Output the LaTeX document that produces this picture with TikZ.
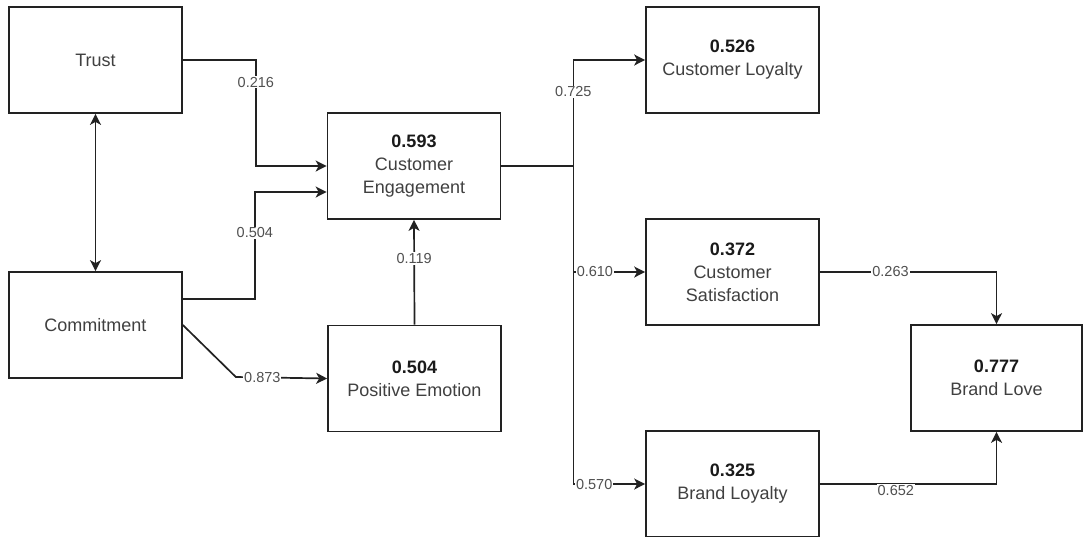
\documentclass[tikz,border=0pt]{standalone}
\usepackage{fontspec}
\setmainfont{Liberation Sans}
\usetikzlibrary{arrows.meta}
\definecolor{linec}{HTML}{222222}
\definecolor{namec}{HTML}{404040}
\definecolor{numc}{HTML}{1A1A1A}
\definecolor{labc}{HTML}{505050}
\tikzset{
  box/.style={draw=linec, line width=1.7pt, fill=white, minimum width=173pt, minimum height=106pt,
    inner sep=0pt, align=center, text=namec, font=\fontsize{18}{23}\selectfont},
  arr/.style={draw=linec, line width=1.7pt, -{Stealth[length=11pt,width=11pt,inset=3pt]}},
  arrtwo/.style={draw=linec, line width=1.7pt, {Stealth[length=11pt,width=11pt,inset=3pt]}-{Stealth[length=11pt,width=11pt,inset=3pt]}},
  elabel/.style={fill=white, text=labc, inner sep=1pt, font=\fontsize{14.5}{16}\selectfont},
}
\newcommand{\num}[1]{{\color{numc}\bfseries #1}}
\begin{document}
\begin{tikzpicture}[x=1pt,y=-1pt]
\useasboundingbox (0,0) rectangle (1083,536);
\node[box] (trust) at (95.5,60) {Trust};
\node[box] (comm) at (95.5,325) {Commitment};
\node[box] (ce) at (414,166) {\num{0.593}\\Customer\\Engagement};
\node[box] (pe) at (414.5,378.5) {\num{0.504}\\Positive Emotion};
\node[box] (cl) at (732.5,60) {\num{0.526}\\Customer Loyalty};
\node[box] (cs) at (732.5,272) {\num{0.372}\\Customer\\Satisfaction};
\node[box] (blo) at (732.5,484) {\num{0.325}\\Brand Loyalty};
\node[box, minimum width=171pt] (blove) at (996.5,378) {\num{0.777}\\Brand Love};

\draw[arrtwo] (trust.south) -- (comm.north);
\draw[arr] (trust.east) -- ++(73pt,0) |- node[elabel,pos=0.104] (l216) {0.216} (ce.west);
\draw[arr] ([yshift=26pt]comm.east) -- ++(72pt,0) |- node[elabel,pos=0.31] (l504) {0.504} ([yshift=-26pt]ce.west);
\draw[arr] (comm.east) -- ++(53pt,-52pt) -- node[elabel,pos=0.29] (l873) {0.873} (pe.west);
\draw[arr] (pe.north) -- node[elabel,pos=0.63] (l119) {0.119} (ce.south);
\draw[arr] (ce.east) -- ++(72pt,0) |- node[elabel,pos=0.35] (l725) {0.725} (cl.west);
\draw[arr] (ce.east) -- ++(72pt,0) |- node[elabel,pos=0.65] (l610) {0.610} (cs.west);
\draw[arr] (ce.east) -- ++(72pt,0) |- node[elabel,pos=0.645] (l570) {0.570} (blo.west);
\draw[arr] (cs.east) -| node[elabel,pos=0.2] (l263) {0.263} (blove.north);
\draw[arr] (blo.east) -| node[elabel,pos=0.215,yshift=-6pt] (l652) {0.652} (blove.south);
\end{tikzpicture}
\end{document}
